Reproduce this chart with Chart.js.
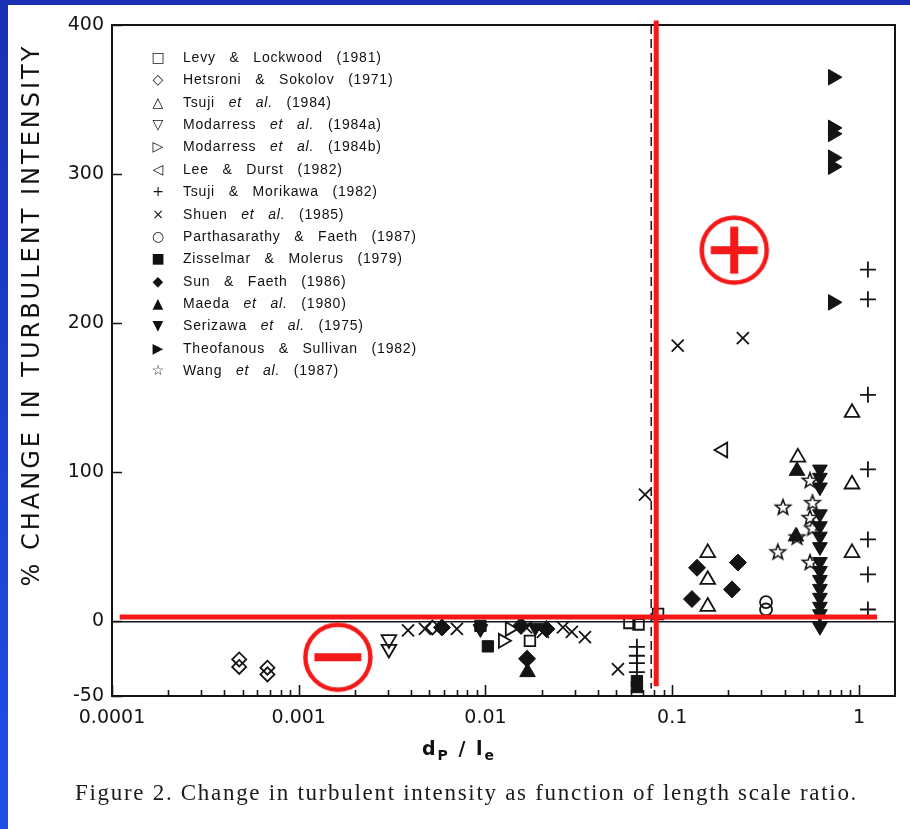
<!DOCTYPE html>
<html>
<head>
<meta charset="utf-8">
<script src="https://cdn.jsdelivr.net/npm/chart.js@4.4.1/dist/chart.umd.min.js"></script>
<style>
html,body{margin:0;padding:0;}
body{width:910px;height:829px;overflow:hidden;position:relative;background:linear-gradient(180deg,#1a2fb4,#1f4fe9);}
#panel{position:absolute;left:8px;top:5px;width:902px;height:824px;background:#fff;}
#chart{position:absolute;left:0;top:0;}
#legend{position:absolute;left:148px;top:46px;font-family:"Liberation Sans",Arial,sans-serif;font-size:14px;color:#111;letter-spacing:0.8px;word-spacing:9px;}
#legend .row{position:relative;height:22.36px;line-height:22.36px;white-space:nowrap;}
#legend .sym{position:absolute;left:0;width:20px;text-align:center;font-family:"DejaVu Sans",sans-serif;font-size:14px;letter-spacing:0;word-spacing:0;}
#legend .txt{position:absolute;left:35px;}
#ytitle{position:absolute;left:-269px;top:298px;width:600px;height:34px;line-height:34px;text-align:center;transform:rotate(-90deg);font-family:"DejaVu Sans",sans-serif;font-size:24px;letter-spacing:3px;color:#111;white-space:nowrap;}
#xtitle{position:absolute;left:359px;top:736px;width:200px;line-height:24px;text-align:center;font-family:"DejaVu Sans",sans-serif;font-weight:bold;font-size:19px;letter-spacing:2px;color:#111;white-space:nowrap;}
#xtitle span{font-size:14px;position:relative;top:5px;}
#caption{position:absolute;left:75px;top:780px;line-height:26px;font-family:"Liberation Serif","Times New Roman",serif;font-size:23px;letter-spacing:1.7px;color:#1a1a1a;white-space:nowrap;}
</style>
</head>
<body>
<div id="panel"></div>
<canvas id="chart" width="910" height="829"></canvas>
<div id="legend"></div>
<div id="ytitle">% CHANGE IN TURBULENT INTENSITY</div>
<div id="xtitle">d<span>P</span> / l<span>e</span></div>
<div id="caption">Figure 2. Change in turbulent intensity as function of length scale ratio.</div>
<script>
// ---------- axis ticks ----------
const xMajorTicks = [0.0001, 0.001, 0.01, 0.1, 1];
const xTickLabels = ['0.0001', '0.001', '0.01', '0.1', '1'];
const yTickValues = [-50, 0, 100, 200, 300, 400];
const yTickLabels = ['-50', '0', '100', '200', '300', '400'];

// ---------- series names (legend) ----------
const seriesNames = [
  'Levy & Lockwood (1981)',
  'Hetsroni & Sokolov (1971)',
  'Tsuji et al. (1984)',
  'Modarress et al. (1984a)',
  'Modarress et al. (1984b)',
  'Lee & Durst (1982)',
  'Tsuji & Morikawa (1982)',
  'Shuen et al. (1985)',
  'Parthasarathy & Faeth (1987)',
  'Zisselmar & Molerus (1979)',
  'Sun & Faeth (1986)',
  'Maeda et al. (1980)',
  'Serizawa et al. (1975)',
  'Theofanous & Sullivan (1982)',
  'Wang et al. (1987)'
];

// ---------- data: dp/le (x) and % change (y) ----------
const levyX = [0.0173, 0.059, 0.066, 0.084];
const levyY = [-13, -1, -2, 5];
const hetsroniX = [0.00048, 0.00048, 0.00068, 0.00068, 0.0052];
const hetsroniY = [-25.5, -30.5, -31, -35.5, -4];
const tsujiX = [0.155, 0.155, 0.155, 0.471, 0.918, 0.918, 0.918];
const tsujiY = [46, 28, 10, 110, 140, 92, 46];
const modarressAX = [0.00304, 0.00304];
const modarressAY = [-12, -18.5];
const modarressBX = [0.0124, 0.0135];
const modarressBY = [-13, -5];
const leeX = [0.187];
const leeY = [115];
const morikawaX = [1.117, 1.117, 1.117, 1.117, 1.117, 1.117, 1.117, 0.0647, 0.0647, 0.0647, 0.0647];
const morikawaY = [236, 216, 152, 102, 55, 31.5, 8, -17, -23, -28, -34];
const shuenX = [0.00385, 0.00474, 0.00703, 0.0165, 0.0203, 0.026, 0.029, 0.0341, 0.0512, 0.0715, 0.107, 0.239];
const shuenY = [-6, -5, -5, -4, -7, -4, -7, -10.5, -32, 85, 185, 190];
const parthaX = [0.318, 0.318];
const parthaY = [13, 8];
const zisselmarX = [0.0103, 0.0094, 0.0647, 0.0647];
const zisselmarY = [-16.7, -3, -40, -44];
const sunX = [0.1276, 0.1358, 0.209, 0.225, 0.00585, 0.0212, 0.0167, 0.0155];
const sunY = [15, 36, 21.5, 39.5, -4, -5, -25, -3];
const maedaX = [0.0168, 0.466, 0.46];
const maedaY = [-34, 101, 57];
const serizawaX = [0.618, 0.618, 0.618, 0.618, 0.618, 0.618, 0.618, 0.618, 0.618, 0.618, 0.618, 0.618, 0.618, 0.618, 0.618, 0.0094, 0.0185];
const serizawaY = [102, 96.5, 90, 72, 64, 57, 50, 40, 34, 28, 22, 16, 10, 5, -3.5, -5, -4];
const theofanousX = [0.726, 0.726, 0.726, 0.726, 0.726, 0.726];
const theofanousY = [365, 331, 327, 311, 305, 214];
const wangX = [0.392, 0.368, 0.547, 0.564, 0.547, 0.564, 0.466, 0.547];
const wangY = [77, 47, 40, 80, 70, 63, 57, 95];

// ---------- annotation lines / signs ----------
const zeroRefX = [0.00011, 1.25];
const zeroRefY = [3, 3];
const splitRefX = [0.0821, 0.0821];
const splitRefY = [403, -43.5];
const dashRefX = [0.0772, 0.0772];
const dashRefY = [400, -45];
const plusSignX = [0.2148];
const plusSignY = [249];
const minusSignX = [0.00162];
const minusSignY = [-24];

const xMin = 0.0001, xMax = 1.56, yMin = -50, yMax = 400;

const INK = '#141414';
const RED = '#f41818';

function makeStar(r, lw) {
  const s = Math.ceil(2 * r + 2 * lw + 2);
  const c = document.createElement('canvas');
  c.width = s; c.height = s;
  const g = c.getContext('2d');
  g.beginPath();
  for (let i = 0; i < 10; i++) {
    const rr = i % 2 ? r * 0.42 : r;
    const a = -Math.PI / 2 + i * Math.PI / 5;
    g.lineTo(s / 2 + rr * Math.cos(a), s / 2 + 1 + rr * Math.sin(a));
  }
  g.closePath();
  g.lineJoin = 'miter';
  g.lineWidth = lw; g.strokeStyle = INK; g.stroke();
  return c;
}
function makeSign(plus) {
  const s = 80, c = document.createElement('canvas');
  c.width = s; c.height = s;
  const g = c.getContext('2d');
  g.strokeStyle = RED; g.lineWidth = 4.5;
  g.beginPath(); g.arc(s / 2, s / 2, 32.5, 0, Math.PI * 2); g.stroke();
  g.fillStyle = RED;
  g.fillRect(s / 2 - 23.5, s / 2 - 4, 47, 8);
  if (plus) g.fillRect(s / 2 - 4, s / 2 - 23.5, 8, 47);
  return c;
}

const pts = (xs, ys) => xs.map((x, i) => ({ x: x, y: ys[i] }));

const open = (style, r, rot) => ({ pointStyle: style, pointRadius: r, pointRotation: rot || 0, pointBackgroundColor: 'rgba(0,0,0,0)', pointBorderColor: INK, pointBorderWidth: 1.8 });
const solid = (style, r, rot) => ({ pointStyle: style, pointRadius: r, pointRotation: rot || 0, pointBackgroundColor: INK, pointBorderColor: INK, pointBorderWidth: 1 });

const seriesData = [
  [levyX, levyY, open('rect', 7.5)],
  [hetsroniX, hetsroniY, open('rectRot', 7)],
  [tsujiX, tsujiY, open('triangle', 8.5)],
  [modarressAX, modarressAY, open('triangle', 8.5, 180)],
  [modarressBX, modarressBY, open('triangle', 8, 90)],
  [leeX, leeY, open('triangle', 8.5, 270)],
  [morikawaX, morikawaY, open('cross', 8)],
  [shuenX, shuenY, open('crossRot', 8.5)],
  [parthaX, parthaY, open('circle', 6)],
  [zisselmarX, zisselmarY, solid('rect', 8)],
  [sunX, sunY, solid('rectRot', 8.5)],
  [maedaX, maedaY, solid('triangle', 9)],
  [serizawaX, serizawaY, solid('triangle', 8.5, 180)],
  [theofanousX, theofanousY, solid('triangle', 9, 90)],
  [wangX, wangY, open(makeStar(8, 1.6), 8)]
];

const datasets = seriesData.map((s, i) => Object.assign({
  label: seriesNames[i],
  data: pts(s[0], s[1]),
  showLine: false,
  order: 2
}, s[2]));

datasets.push({ label: 'split-dashed', data: pts(dashRefX, dashRefY), showLine: true, borderColor: INK, borderWidth: 1.5, borderDash: [9, 5], pointRadius: 0, order: 3, clip: false });
datasets.push({ label: 'zero-red', data: pts(zeroRefX, zeroRefY), showLine: true, borderColor: RED, borderWidth: 5, pointRadius: 0, order: 0, clip: false, borderCapStyle: 'butt' });
datasets.push({ label: 'split-red', data: pts(splitRefX, splitRefY), showLine: true, borderColor: RED, borderWidth: 5, pointRadius: 0, order: 0, clip: false, borderCapStyle: 'butt' });
datasets.push({ label: 'plus', data: pts(plusSignX, plusSignY), showLine: false, pointStyle: makeSign(true), pointRadius: 10, order: 0 });
datasets.push({ label: 'minus', data: pts(minusSignX, minusSignY), showLine: false, pointStyle: makeSign(false), pointRadius: 10, order: 0 });

// full list of log ticks (majors + 2..9 minors)
const xAllTicks = xMajorTicks.flatMap(d => [1, 2, 3, 4, 5, 6, 7, 8, 9].map(m => +(d * m).toPrecision(6))).filter(v => v <= xMax);

const sameVal = (a, b) => Math.abs(a - b) <= Math.abs(b) * 1e-9 + 1e-12;

const framePlugin = {
  id: 'frameTicks',
  beforeDatasetsDraw(chart) {
    const { ctx, chartArea: a, scales } = chart;
    const xs = scales.x, ys = scales.y;
    ctx.save();
    ctx.strokeStyle = INK;
    ctx.lineWidth = 2;
    ctx.strokeRect(a.left, a.top, a.right - a.left, a.bottom - a.top);
    ctx.lineWidth = 1.6;
    ctx.beginPath();
    xs.ticks.forEach(t => {
      const px = Math.round(xs.getPixelForValue(t.value)) + 0.5;
      const len = t.major ? 11 : 6;
      ctx.moveTo(px, a.bottom); ctx.lineTo(px, a.bottom - len);
    });
    ys.ticks.forEach(t => {
      const py = Math.round(ys.getPixelForValue(t.value)) + 0.5;
      ctx.moveTo(a.left, py); ctx.lineTo(a.left + 10, py);
    });
    ctx.stroke();
    ctx.restore();
  }
};

new Chart(document.getElementById('chart'), {
  type: 'scatter',
  data: { datasets: datasets },
  options: {
    responsive: false,
    animation: false,
    events: [],
    layout: { padding: { left: 0, top: 25, right: 15, bottom: 93 }, autoPadding: false },
    plugins: { legend: { display: false }, tooltip: { enabled: false } },
    scales: {
      x: {
        type: 'logarithmic',
        min: xMin, max: xMax, bounds: 'data',
        afterBuildTicks: s => { s.ticks = xAllTicks.map(v => ({ value: v, major: xMajorTicks.some(m => sameVal(v, m)) })); },
        afterFit: s => { s.height = 40; },
        grid: { drawOnChartArea: false, drawTicks: false },
        border: { display: false },
        ticks: {
          autoSkip: false, maxRotation: 0, padding: 11,
          color: INK, font: { family: 'DejaVu Sans', size: 19 },
          callback: v => { const i = xMajorTicks.findIndex(m => sameVal(v, m)); return i >= 0 ? xTickLabels[i] : ''; }
        }
      },
      y: {
        type: 'linear',
        min: yMin, max: yMax, bounds: 'data',
        afterBuildTicks: s => { s.ticks = yTickValues.map(v => ({ value: v })); },
        afterFit: s => { s.width = 112; },
        grid: { drawOnChartArea: true, drawTicks: false, lineWidth: 1.5, color: c => (c.tick && c.tick.value === 0) ? INK : 'rgba(0,0,0,0)' },
        border: { display: false },
        ticks: {
          padding: 8, color: INK, font: { family: 'DejaVu Sans', size: 19 },
          callback: v => { const i = yTickValues.indexOf(v); return i >= 0 ? yTickLabels[i] : ''; }
        }
      }
    }
  },
  plugins: [framePlugin]
});

// ---------- HTML legend ----------
const legendSymbols = ['\u25A1', '\u25C7', '\u25B3', '\u25BD', '\u25B7', '\u25C1', '+', '\u00D7', '\u25CB', '\u25A0', '\u25C6', '\u25B2', '\u25BC', '\u25B6', '\u2606'];
const lg = document.getElementById('legend');
seriesNames.forEach((n, i) => {
  const row = document.createElement('div');
  row.className = 'row';
  const sym = document.createElement('span');
  sym.className = 'sym';
  sym.textContent = legendSymbols[i];
  const txt = document.createElement('span');
  txt.className = 'txt';
  txt.innerHTML = n.replace('&', '&amp;').replace('et al.', '<i>et al.</i>');
  row.appendChild(sym); row.appendChild(txt);
  lg.appendChild(row);
});
</script>
</body>
</html>
